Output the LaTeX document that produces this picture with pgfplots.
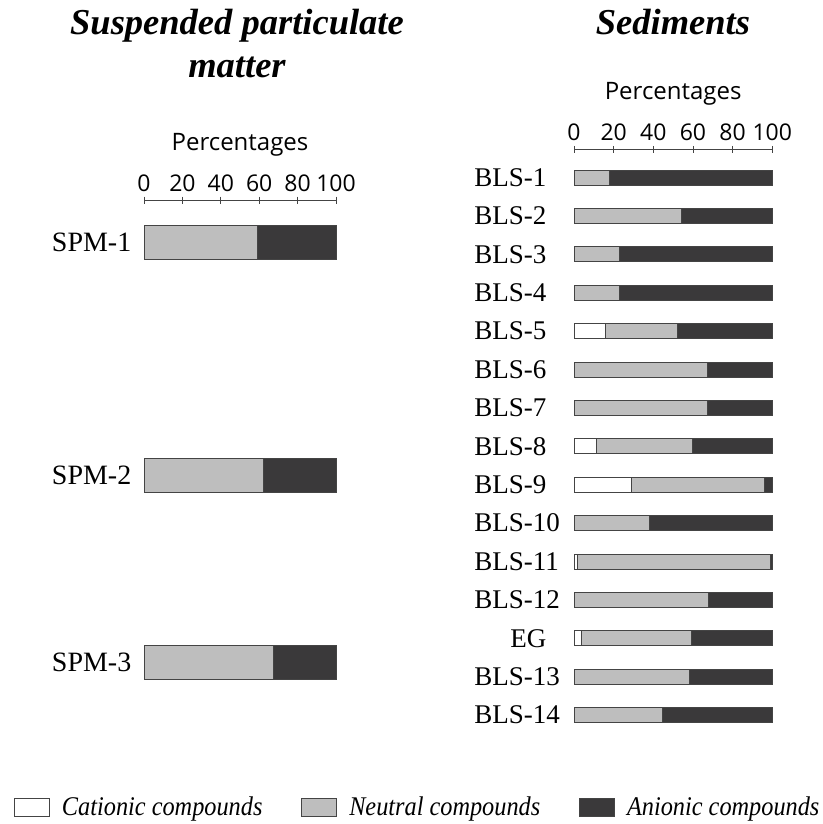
\documentclass[border=0pt]{standalone}
\usepackage{fontspec}
\setmainfont{Liberation Serif}
\newfontfamily\tickfont{Open Sans}
\newfontfamily\legfont{Liberation Serif}[FakeStretch=0.9]
\usepackage{pgfplots}
\pgfplotsset{compat=1.18}
\usepackage{pgfplotstable}
\definecolor{neut}{HTML}{BEBEBE}
\definecolor{anio}{HTML}{3A393A}
\definecolor{edge}{HTML}{444444}

\pgfplotstableread{
y c n a
-242 0 59 41
-475 0 62 38
-662 0 67.4 32.6
}\spm

\pgfplotstableread{
y c n a
-177.5 0 17.8 82.2
-215.9 0 54.3 45.7
-254.3 0 22.9 77.1
-292.7 0 22.9 77.1
-331.1 15.7 36.5 47.8
-369.5 0 67.3 32.7
-407.9 0 67.3 32.7
-446.3 11.5 48.3 40.2
-484.7 28.9 67.3 3.8
-523.1 0 38.1 61.9
-561.5 1.5 97.3 1.2
-599.9 0 67.8 32.2
-638.3 3.7 55.4 40.9
-676.7 0 58.4 41.6
-715.1 0 44.5 55.5
}\bls

\begin{document}
\begin{tikzpicture}
\path[use as bounding box] (0pt,0pt) rectangle (822pt,-824pt);
\pgfplotsset{
  common/.style={
    xbar stacked, xmin=0, xmax=100, y=1pt,
    axis x line*=top, axis y line*=left,
    x axis line style={-, draw=edge, line width=0.8pt},
    y axis line style={draw=none},
    xtick={0,20,...,100}, tick align=center, major tick length=7pt,
    xtick style={draw=edge, line width=0.8pt},
    ytick style={draw=none},
    minor tick num=0,
    xticklabel style={font=\tickfont\fontsize{23}{23}\selectfont, inner sep=0pt, yshift=5pt},
    /pgf/number format/assume math mode=true,
    xlabel={Percentages},
    xlabel style={font=\tickfont\fontsize{24}{24}\selectfont, at={(axis description cs:0.5,1)}, anchor=base, yshift=50pt},
    clip=false,
  },
  lg/.style={legend image code/.code={\draw[##1, line width=0.8pt] (0pt,-10pt) rectangle (35pt,8pt);}},
}
\begin{axis}[common,
  at={(144pt,-200pt)}, anchor=north west,
  x=1.92pt, ymin=-700, ymax=-200, bar width=34pt,
  ytick={-662,-475,-242}, yticklabels={SPM-3,SPM-2,SPM-1},
  yticklabel style={font=\fontsize{28}{28}\selectfont, inner sep=0pt, anchor=east, xshift=-9pt},
]
\addplot[fill=white, draw=edge, line width=0.8pt] table[x=c, y=y] {\spm};
\addplot[fill=neut, draw=edge, line width=0.8pt] table[x=n, y=y] {\spm};
\addplot[fill=anio, draw=edge, line width=0.8pt] table[x=a, y=y] {\spm};
\end{axis}

\begin{axis}[common,
  at={(574pt,-149.3pt)}, anchor=north west,
  x=1.983pt, ymin=-740, ymax=-149.3, bar width=15pt,
  ytick={-715.1,-676.7,-638.3,-599.9,-561.5,-523.1,-484.7,-446.3,-407.9,-369.5,-331.1,-292.7,-254.3,-215.9,-177.5},
  yticklabels={BLS-14,BLS-13,\hspace*{36pt}EG,BLS-12,BLS-11,BLS-10,BLS-9,BLS-8,BLS-7,BLS-6,BLS-5,BLS-4,BLS-3,BLS-2,BLS-1},
  yticklabel style={font=\fontsize{27}{27}\selectfont, inner sep=0pt, anchor=east, text width=87pt, align=left, xshift=-9pt},
  legend columns=3,
  legend cell align=left,
  legend style={draw=none, fill=none, inner sep=0pt,
    at={(axis description cs:-2.824,-0.1134)}, anchor=west,
    font=\legfont\itshape\fontsize{27}{27}\selectfont,
    nodes={inner sep=0pt},
    /tikz/every odd column/.append style={column sep=12pt},
    /tikz/every even column/.append style={column sep=39pt}},
]
\addplot[fill=white, draw=edge, line width=0.8pt, lg] table[x=c, y=y] {\bls};
\addplot[fill=neut, draw=edge, line width=0.8pt, lg] table[x=n, y=y] {\bls};
\addplot[fill=anio, draw=edge, line width=0.8pt, lg] table[x=a, y=y] {\bls};
\legend{Cationic compounds, Neutral compounds, Anionic compounds}
\end{axis}

\node[font=\bfseries\itshape\fontsize{36.5}{36.5}\selectfont, anchor=base] at (237pt,-35pt) {Suspended particulate};
\node[font=\bfseries\itshape\fontsize{36.5}{36.5}\selectfont, anchor=base] at (237pt,-78pt) {matter};
\node[font=\bfseries\itshape\fontsize{36.5}{36.5}\selectfont, anchor=base] at (673pt,-35pt) {Sediments};
\end{tikzpicture}
\end{document}
